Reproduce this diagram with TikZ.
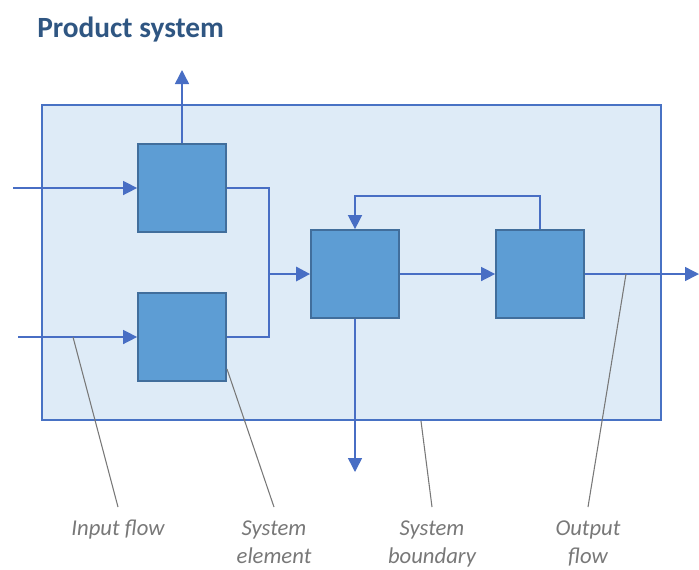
\documentclass[tikz,border=0pt]{standalone}
\usepackage{fontspec}
\setmainfont{Carlito}
\usepackage{tikz}
\usetikzlibrary{arrows.meta}
\definecolor{bndfill}{RGB}{222,235,247}
\definecolor{bnddraw}{RGB}{72,114,196}
\definecolor{elfill}{RGB}{93,157,212}
\definecolor{eldraw}{RGB}{65,110,156}
\definecolor{flowc}{RGB}{72,110,196}
\definecolor{titlec}{RGB}{47,86,130}
\definecolor{grayc}{RGB}{120,120,120}

\begin{document}
\begin{tikzpicture}[x=0.75pt,y=-0.75pt,
  boundary/.style={draw=bnddraw, fill=bndfill, line width=1.8pt, minimum width=464pt, minimum height=236pt, inner sep=0pt},
  element/.style={draw=eldraw, fill=elfill, line width=1.3pt, minimum size=66pt, inner sep=0pt},
  flow/.style={draw=flowc, line width=1.1pt, -{Triangle[length=10.5pt,width=10.5pt]}},
  link/.style={draw=flowc, line width=1.1pt},
  leader/.style={draw=grayc, line width=0.8pt},
  lbl/.style={text=grayc, font=\fontsize{17}{21}\selectfont\itshape, align=center, anchor=north, inner sep=1pt, outer ysep=9pt}]
\useasboundingbox (0,0) rectangle (699,569);
\node[anchor=base west, inner sep=0pt, text=titlec, font=\fontsize{22}{26}\selectfont\bfseries] (title) at (37,37) {Product system};
\node[boundary] (sys) at (351.5,262.5) {};
\node[element] (elA) at (182,188) {};
\node[element] (elB) at (182,337) {};
\node[element] (elC) at (355,274) {};
\node[element] (elD) at (540,274) {};
\coordinate (inA) at (13,188);
\coordinate (inB) at (18,337);
\coordinate (outA) at (182,70);
\coordinate (join) at (269,274);
\coordinate (outC) at (355,472);
\coordinate (outD) at (699,274);
\draw[flow] (inA) -- (elA.west);
\draw[flow] (inB) -- (elB.west);
\draw[flow] (elA.north) -- (outA);
\draw[link] (elA.east) -| (join);
\draw[link] (elB.east) -| (join);
\draw[flow, line width=2.2pt] (join) -- (elC.west);
\draw[flow] (elC.east) -- (elD.west);
\draw[flow] (elD.north) -- ++(0,-33) -| (elC.north);
\draw[flow] (elC.south) -- (outC);
\draw[flow] (elD.east) -- (outD);
\node[lbl] (lin) at (118,507) {Input flow};
\node[lbl] (lel) at (274,507) {System\\element};
\node[lbl] (lbd) at (432,507) {System\\boundary};
\node[lbl] (lout) at (588,507) {Output\\flow};
\coordinate (pIn) at (73,337);
\coordinate (pEl) at (227,369);
\coordinate (pBd) at (421,421);
\coordinate (pOut) at (626,274);
\draw[leader] (pIn) -- (lin.north);
\draw[leader] (pEl) -- (lel.north);
\draw[leader] (pBd) -- (lbd.north);
\draw[leader] (pOut) -- (lout.north);
\end{tikzpicture}
\end{document}
